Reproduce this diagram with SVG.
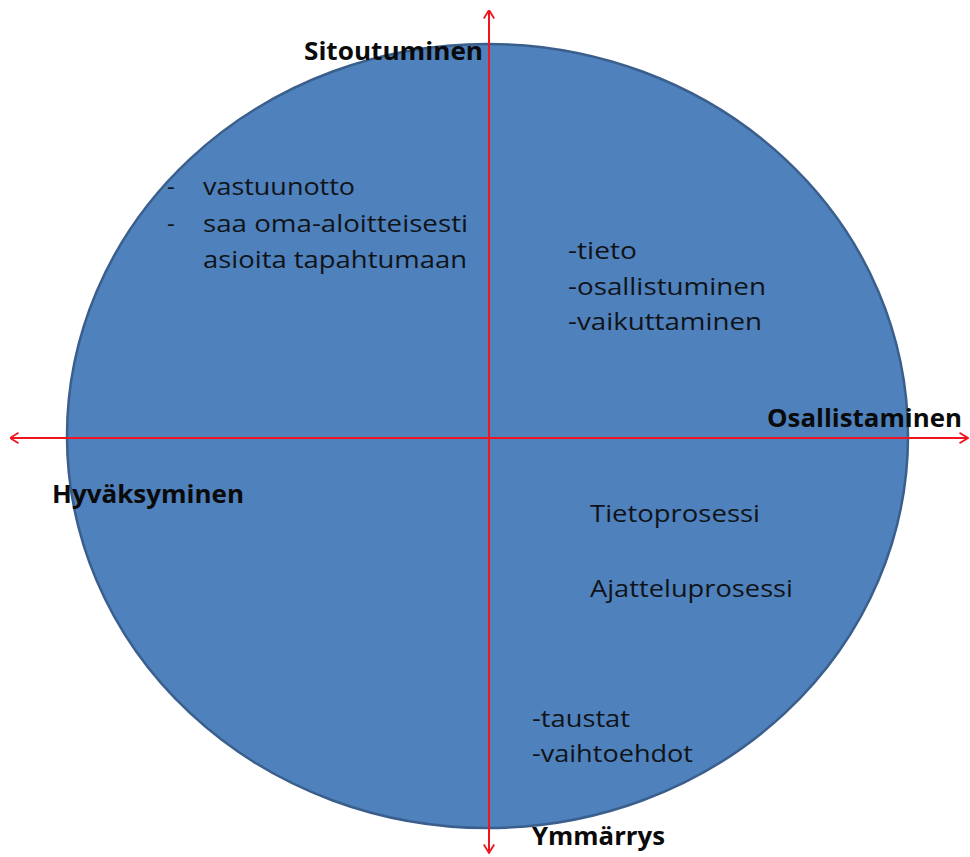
<svg xmlns="http://www.w3.org/2000/svg" width="970" height="857" viewBox="0 0 970 857">
  <defs>
    <marker id="chevron" viewBox="0 0 10 12" refX="9.5" refY="6" markerWidth="10" markerHeight="12" markerUnits="userSpaceOnUse" orient="auto-start-reverse">
      <path d="M1,0.8 L9.5,6 L1,11.2" fill="none" stroke="#F0141E" stroke-width="1.8"/>
    </marker>
  </defs>
  <style>
    .bg { fill: #ffffff; }
    .disc { fill: #4F81BD; stroke: #3A5F8C; stroke-width: 2.5; }
    .axis { stroke: #F0141E; stroke-width: 2; fill: none; }
    .pole { font-family: "Open Sans", "Liberation Sans", sans-serif; font-weight: bold; font-size: 25px; fill: #0a0a0a; }
    .item { font-family: "Open Sans", "Liberation Sans", sans-serif; font-size: 24px; fill: #101418; }
  </style>

  <rect class="bg" width="970" height="857"/>

  <!-- central disc -->
  <g id="disc">
    <ellipse class="disc" cx="487.5" cy="436" rx="420.5" ry="392"/>
  </g>

  <!-- axes -->
  <g id="connectors">
    <line class="axis" x1="489" y1="853" x2="489" y2="10" marker-start="url(#chevron)" marker-end="url(#chevron)"/>
    <line class="axis" x1="10" y1="438" x2="968" y2="438" marker-start="url(#chevron)" marker-end="url(#chevron)"/>
  </g>

  <!-- pole labels -->
  <g id="pole-top">
    <text class="pole" x="304" y="60" textLength="179" lengthAdjust="spacingAndGlyphs">Sitoutuminen</text>
  </g>
  <g id="pole-right">
    <text class="pole" x="767" y="427" textLength="195" lengthAdjust="spacingAndGlyphs">Osallistaminen</text>
  </g>
  <g id="pole-left">
    <text class="pole" x="52" y="503" textLength="192" lengthAdjust="spacingAndGlyphs">Hyväksyminen</text>
  </g>
  <g id="pole-bottom">
    <text class="pole" x="532" y="845" textLength="133" lengthAdjust="spacingAndGlyphs">Ymmärrys</text>
  </g>

  <!-- upper-left quadrant -->
  <g id="quadrant-upper-left">
    <text class="item" x="167" y="195">-</text>
    <text class="item" x="203" y="195" textLength="152" lengthAdjust="spacingAndGlyphs">vastuunotto</text>
    <text class="item" x="167" y="232">-</text>
    <text class="item" x="203" y="232" textLength="265" lengthAdjust="spacingAndGlyphs">saa oma-aloitteisesti</text>
    <text class="item" x="203" y="268" textLength="264" lengthAdjust="spacingAndGlyphs">asioita tapahtumaan</text>
  </g>

  <!-- upper-right quadrant -->
  <g id="quadrant-upper-right">
    <text class="item" x="568" y="259" textLength="69" lengthAdjust="spacingAndGlyphs">-tieto</text>
    <text class="item" x="568" y="295" textLength="198" lengthAdjust="spacingAndGlyphs">-osallistuminen</text>
    <text class="item" x="568" y="330" textLength="194" lengthAdjust="spacingAndGlyphs">-vaikuttaminen</text>
  </g>

  <!-- lower-right quadrant -->
  <g id="quadrant-lower-right">
    <text class="item" x="590" y="522" textLength="170" lengthAdjust="spacingAndGlyphs">Tietoprosessi</text>
    <text class="item" x="590" y="597" textLength="203" lengthAdjust="spacingAndGlyphs">Ajatteluprosessi</text>
  </g>

  <!-- lower quadrant notes -->
  <g id="quadrant-lower">
    <text class="item" x="532" y="727" textLength="98" lengthAdjust="spacingAndGlyphs">-taustat</text>
    <text class="item" x="532" y="762" textLength="161" lengthAdjust="spacingAndGlyphs">-vaihtoehdot</text>
  </g>
</svg>
